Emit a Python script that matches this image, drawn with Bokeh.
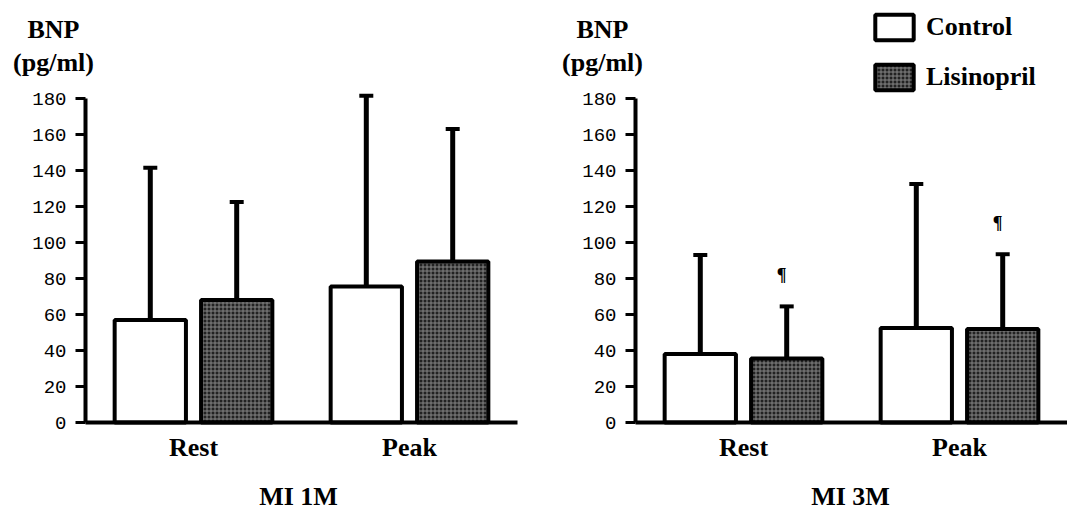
from bokeh.plotting import figure
from bokeh.models import ColumnDataSource, Range1d, FixedTicker, Label, Legend, LegendItem
from bokeh.layouts import row
from bokeh.embed import file_html
from bokeh.resources import INLINE
from bokeh.core.properties import value

categories = ["Rest", "Peak"]
groups = ["Control", "Lisinopril"]
y_ticks = [0, 20, 40, 60, 80, 100, 120, 140, 160, 180]
panel_titles = ["MI 1M", "MI 3M"]

mi1_control = [57, 75.5]
mi1_control_sd = [84.5, 106]
mi1_lisinopril = [68, 89.5]
mi1_lisinopril_sd = [54.5, 73.5]
mi1_lisinopril_sig = ["", ""]

mi3_control = [38, 52.5]
mi3_control_sd = [55, 80]
mi3_lisinopril = [35.5, 52]
mi3_lisinopril_sd = [29, 41.5]
mi3_lisinopril_sig = ["\u00b6", "\u00b6"]

SERIF = "Liberation Serif"
MONO = "Liberation Mono"
OFFSETS = [-0.2, 0.2]
STYLES = [
    dict(fill_color="white"),
    dict(fill_color="#222222", hatch_pattern="cross", hatch_color="#858585", hatch_scale=4, hatch_weight=1),
]
H = 515
PX_PER_X = 216.0   # pixels per category unit
PX_PER_Y = 1.8     # pixels per pg/ml
Y0_PAGE = 422      # page row of the zero line
FS = "26px"


def make_panel(title, series, sig, width, axis_px, ylab_x, mi_x, legend):
    x_start = -axis_px / PX_PER_X
    x_end = (width - axis_px) / PX_PER_X
    y_start = -(H - Y0_PAGE) / PX_PER_Y
    y_end = Y0_PAGE / PX_PER_Y
    p = figure(width=width, height=H, x_range=Range1d(x_start, x_end), y_range=Range1d(y_start, y_end),
               output_backend="svg", toolbar_location=None,
               min_border_left=0, min_border_right=0, min_border_top=0, min_border_bottom=0)
    p.outline_line_color = None
    p.grid.visible = False
    rends = []
    for k, ((means, sds), off, style) in enumerate(zip(series, OFFSETS, STYLES)):
        xs = [i + 0.5 + off for i in range(len(categories))]
        tops = [m + s for m, s in zip(means, sds)]
        data = dict(x=xs, mean=means, top=tops)
        if k == 1:
            data["sig"] = sig
        src = ColumnDataSource(data)
        r = p.vbar(x="x", top="mean", bottom=0, width=0.33, source=src,
                   line_color="black", line_width=4, **style)
        p.segment(x0="x", y0="mean", x1="x", y1="top", source=src, line_width=5, line_color="black")
        p.scatter(x="x", y="top", marker="dash", size=14, line_width=4, line_color="black", source=src)
        if k == 1:
            p.text(x="x", y="top", text="sig", source=src, x_offset=-5, y_offset=-31, text_align="center",
                   text_baseline="middle", text_font=value(SERIF), text_font_style="bold",
                   text_font_size="18px", text_color="black")
        rends.append(r)

    ya = p.yaxis[0]
    ya.fixed_location = 0
    ya.ticker = FixedTicker(ticks=y_ticks)
    ya.bounds = (0, 180)
    ya.axis_line_width = 4
    ya.major_tick_line_width = 3
    ya.major_tick_out = 10
    ya.major_tick_in = 0
    ya.minor_tick_line_color = None
    ya.major_label_text_font = MONO
    ya.major_label_text_font_size = "19px"
    ya.major_label_text_color = "black"
    ya.major_label_standoff = 9

    xa = p.xaxis[0]
    xa.fixed_location = 0
    xa.ticker = FixedTicker(ticks=[i + 0.5 for i in range(len(categories))])
    xa.major_label_overrides = {i + 0.5: c for i, c in enumerate(categories)}
    xa.bounds = (0, len(categories))
    xa.major_tick_line_color = None
    xa.major_tick_out = 0
    xa.major_tick_in = 0
    xa.minor_tick_line_color = None
    xa.axis_line_width = 4
    xa.major_label_text_font = SERIF
    xa.major_label_text_font_style = "bold"
    xa.major_label_text_font_size = FS
    xa.major_label_text_color = "black"
    xa.major_label_standoff = 10

    for txt, yc in [("BNP", 29), ("(pg/ml)", 62)]:
        p.add_layout(Label(x=ylab_x, y=H - yc, x_units="screen", y_units="screen", text=txt,
                           text_align="center", text_baseline="middle", text_font=SERIF,
                           text_font_style="bold", text_font_size=FS, text_color="black"))
    p.add_layout(Label(x=mi_x, y=H - 496, x_units="screen", y_units="screen", text=title,
                       text_align="center", text_baseline="middle", text_font=SERIF,
                       text_font_style="bold", text_font_size=FS, text_color="black"))

    if legend:
        lg = Legend(items=[LegendItem(label=g, renderers=[r]) for g, r in zip(groups, rends)],
                    location=(337, H - 93), glyph_width=48, glyph_height=32, spacing=18,
                    padding=0, margin=0, border_line_color=None, background_fill_alpha=0,
                    label_standoff=8, label_text_font=SERIF, label_text_font_style="bold",
                    label_text_font_size=FS, label_text_color="black")
        p.add_layout(lg)
    return p


p1 = make_panel(panel_titles[0],
                [(mi1_control, mi1_control_sd), (mi1_lisinopril, mi1_lisinopril_sd)],
                mi1_lisinopril_sig, 533, 85, 53, 298, False)
p2 = make_panel(panel_titles[1],
                [(mi3_control, mi3_control_sd), (mi3_lisinopril, mi3_lisinopril_sd)],
                mi3_lisinopril_sig, 534, 102, 69, 317, True)

layout = row(p1, p2)
open("out.html", "w").write(file_html(layout, INLINE))
